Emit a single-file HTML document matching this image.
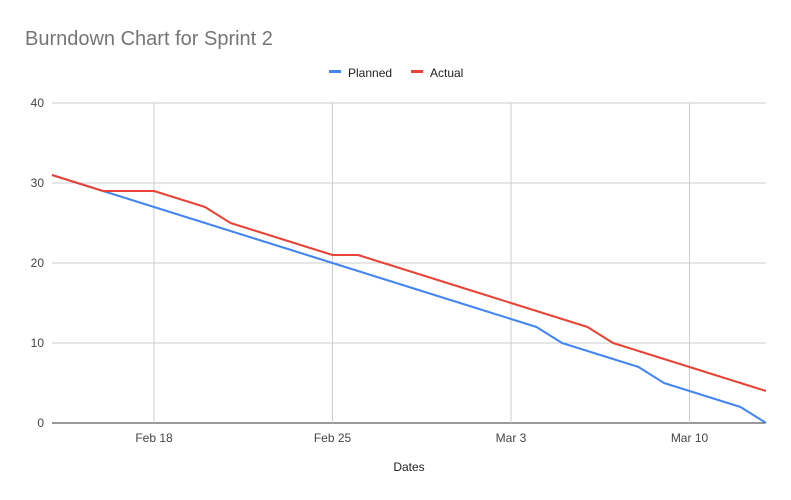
<!DOCTYPE html>
<html><head><meta charset="utf-8"><style>
body{margin:0;background:#fff;font-family:"Liberation Sans",sans-serif}
</style></head><body>
<svg id="chart" width="791" height="500" xmlns="http://www.w3.org/2000/svg" style="display:block">
<rect width="791" height="500" fill="#fff"/>
<text x="25" y="45" font-size="20" fill="#757575">Burndown Chart for Sprint 2</text>
<g>
<g><rect x="329" y="70" width="12" height="3" fill="#4285f4"/><text x="348" y="77" font-size="12" fill="#222">Planned</text></g>
<g><rect x="411" y="70" width="12" height="3" fill="#ea4335"/><text x="430" y="77" font-size="12" fill="#222">Actual</text></g>
</g>
<g id="grid"></g><g id="series"></g>
<text x="409" y="471" font-size="12" fill="#222" text-anchor="middle">Dates</text>
</svg>
<script>
const yTicks=[0,10,20,30,40];
const xTickDays=[4,11,18,25];
const xTickLabels=["Feb 18","Feb 25","Mar 3","Mar 10"];
const planned=[31,30,29,28,27,26,25,24,23,22,21,20,19,18,17,16,15,14,13,12,10,9,8,7,5,4,3,2,0];
const actual=[31,30,29,29,29,28,27,25,24,23,22,21,21,20,19,18,17,16,15,14,13,12,10,9,8,7,6,5,4];
const X0=52,X1=766,Y0=423,Y1=103,NDAYS=28;
const x=d=>X0+(X1-X0)*d/NDAYS, y=v=>Y0-(Y0-Y1)*v/40;
const NS="http://www.w3.org/2000/svg";
const g=document.getElementById('grid'), s=document.getElementById('series');
function mk(t,a,p){const e=document.createElementNS(NS,t);for(const k in a)e.setAttribute(k,a[k]);p.appendChild(e);return e;}
yTicks.forEach(v=>{
 const l=mk('line',{x1:X0,x2:X1,y1:y(v),y2:y(v),stroke:v===0?'#333':'#ccc','stroke-width':1},g);
 
 
 const t=mk('text',{x:44,y:y(v)+4,'font-size':12,fill:'#444','text-anchor':'end'},g);t.textContent=v;
 
 
});
xTickDays.forEach((d,i)=>{
 const l=mk('line',{x1:x(d),x2:x(d),y1:Y1,y2:Y0,stroke:'#ccc','stroke-width':1},g);
 
 
 const t=mk('text',{x:x(d),y:442,'font-size':12,fill:'#444','text-anchor':'middle'},g);t.textContent=xTickLabels[i];
 
 
});
function line(arr,c,n){
 const p=mk('polyline',{points:arr.map((v,i)=>x(i)+','+y(v)).join(' '),fill:'none',stroke:c,'stroke-width':2,'stroke-linejoin':'round'},s);
 
 
}
line(planned,'#4285f4','planned-line');
line(actual,'#ea4335','actual-line');
</script>
</body></html>
